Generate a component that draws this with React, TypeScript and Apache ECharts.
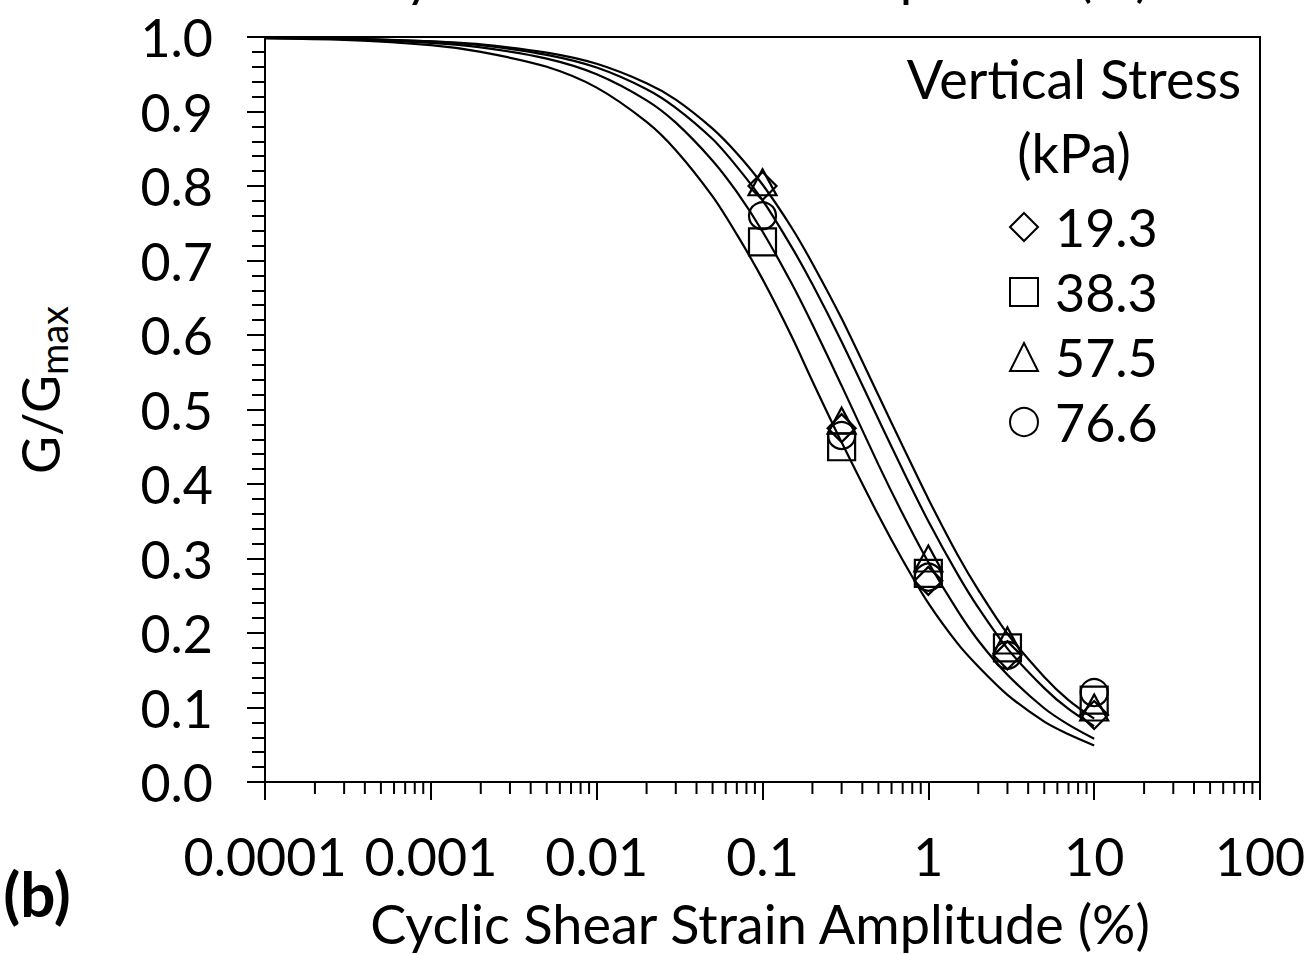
import React, { useEffect, useRef } from "react";
import * as echarts from "echarts";

const FONT = "Lato";

// strain values (%) at which the fitted curves are read
const X_CURVE = [0.0001, 0.0003, 0.001, 0.002, 0.005, 0.01, 0.02, 0.03, 0.05, 0.07, 0.1, 0.15, 0.2, 0.3, 0.5, 0.7, 1, 1.5, 2, 3, 5, 7, 10];
const CURVE_38 = [0.998, 0.996, 0.989, 0.98, 0.96, 0.932, 0.886, 0.848, 0.786, 0.735, 0.675, 0.598, 0.538, 0.456, 0.358, 0.298, 0.24, 0.186, 0.155, 0.117, 0.081, 0.064, 0.049];
const CURVE_76 = [0.999, 0.997, 0.992, 0.986, 0.971, 0.95, 0.915, 0.885, 0.834, 0.792, 0.739, 0.669, 0.614, 0.532, 0.426, 0.36, 0.295, 0.23, 0.19, 0.144, 0.099, 0.077, 0.058];
const CURVE_19 = [0.999, 0.998, 0.994, 0.989, 0.976, 0.959, 0.93, 0.905, 0.863, 0.826, 0.781, 0.718, 0.668, 0.591, 0.487, 0.419, 0.35, 0.279, 0.234, 0.179, 0.126, 0.098, 0.075];
const CURVE_57 = [0.999, 0.998, 0.994, 0.99, 0.979, 0.964, 0.938, 0.916, 0.877, 0.844, 0.802, 0.744, 0.696, 0.622, 0.519, 0.451, 0.38, 0.305, 0.258, 0.199, 0.141, 0.11, 0.085];

// measured points
const X_POINTS = [0.1, 0.3, 1, 3, 10];
const PTS_19 = [0.8, 0.475, 0.27, 0.17, 0.09];
const PTS_38 = [0.725, 0.45, 0.28, 0.18, 0.11];
const PTS_57 = [0.805, 0.485, 0.3, 0.19, 0.1];
const PTS_76 = [0.76, 0.465, 0.275, 0.17, 0.12];

const SERIES_NAMES = ["19.3", "38.3", "57.5", "76.6"];
const X_LABELS = ["0.0001", "0.001", "0.01", "0.1", "1", "10", "100"];
const Y_TICKS = [0, 0.1, 0.2, 0.3, 0.4, 0.5, 0.6, 0.7, 0.8, 0.9, 1.0];
const DECADES = [-4, -3, -2, -1, 0, 1];
const MINOR_MULTS = [2, 3, 4, 5, 6, 7, 8, 9];

const X_TITLE = "Cyclic Shear Strain Amplitude (%)";

export default function App() {
  const ref = useRef<HTMLDivElement>(null);
  useEffect(() => {
    if (!ref.current) return;
    const chart = echarts.init(ref.current, null, { renderer: "svg" });
    const zip = (xs: number[], ys: number[]) => xs.map((x, i) => [x, ys[i]]);
    const minor: number[][] = [];
    DECADES.forEach((d) => MINOR_MULTS.forEach((m) => minor.push([m * Math.pow(10, d), 0])));

    const lineSeries = [CURVE_19, CURVE_38, CURVE_57, CURVE_76].map((c, i) => ({
      type: "line",
      name: "fit" + i,
      data: zip(X_CURVE, c),
      showSymbol: false,
      symbol: "none",
      smooth: 0.3,
      lineStyle: { color: "#000", width: 2.2 },
      z: 2,
      silent: true,
    }));
    const symbols = ["diamond", "rect", "triangle", "circle"];
    const symSizes: any[] = [28, 27, [28, 26], 27];
    const pts = [PTS_19, PTS_38, PTS_57, PTS_76];
    const scatterSeries = pts.map((p, i) => ({
      type: "scatter",
      name: SERIES_NAMES[i],
      data: zip(X_POINTS, p),
      symbol: symbols[i],
      symbolSize: symSizes[i],
      itemStyle: { color: "transparent", borderColor: "#000", borderWidth: 2.2, opacity: 1 },
      z: 3,
    }));

    const option: any = {
      animation: false,
      backgroundColor: "#fff",
      textStyle: { fontFamily: FONT, color: "#000" },
      grid: {
        left: 265,
        right: 53,
        top: 37,
        bottom: 173,
        show: true,
        borderColor: "#000",
        borderWidth: 2,
        backgroundColor: "transparent",
      },
      legend: {
        data: SERIES_NAMES,
        orient: "vertical",
        left: 1004,
        top: 196,
        itemWidth: 28,
        itemHeight: 28,
        itemGap: 13,
        textStyle: { fontFamily: FONT, fontSize: 52, color: "#000", lineHeight: 52, padding: [0, 0, 0, 12] },
        selectedMode: false,
      },
      xAxis: {
        type: "log",
        logBase: 10,
        min: 0.0001,
        max: 100,
        splitNumber: 6,
        axisLine: { show: true, lineStyle: { color: "#000", width: 2 } },
        axisTick: { show: true, length: 18, lineStyle: { color: "#000", width: 2 } },
        splitLine: { show: false },
        axisLabel: {
          fontFamily: FONT,
          fontSize: 52,
          color: "#000",
          margin: 48,
          formatter: (v: number) => X_LABELS[Math.round(Math.log10(v)) + 4],
        },
      },
      yAxis: {
        type: "value",
        min: 0,
        max: 1,
        interval: 0.1,
        axisLine: { show: true, lineStyle: { color: "#000", width: 2 } },
        axisTick: { show: true, length: 18, lineStyle: { color: "#000", width: 2 } },
        minorTick: { show: true, splitNumber: 5, length: 13, lineStyle: { color: "#000", width: 2 } },
        splitLine: { show: false },
        minorSplitLine: { show: false },
        axisLabel: {
          fontFamily: FONT,
          fontSize: 52,
          color: "#000",
          margin: 52,
          formatter: (v: number) => {
            const t = Y_TICKS.find((y) => Math.abs(y - v) < 1e-6);
            return (t !== undefined ? t : v).toFixed(1);
          },
        },
      },
      graphic: [
        {
          type: "text",
          x: 760,
          y: 923,
          style: {
            text: X_TITLE,
            font: `54px ${FONT}`,
            fill: "#000",
            align: "center",
            verticalAlign: "middle",
          },
        },
        {
          type: "text",
          x: 760,
          y: -25,
          style: {
            text: X_TITLE,
            font: `54px ${FONT}`,
            fill: "#000",
            align: "center",
            verticalAlign: "middle",
          },
        },
        {
          type: "text",
          x: 40,
          y: 390,
          rotation: Math.PI / 2,
          style: {
            text: "{a|G/G}{b|max}",
            align: "center",
            verticalAlign: "middle",
            fill: "#000",
            rich: {
              a: { fontFamily: FONT, fontSize: 52, fill: "#000", lineHeight: 58 },
              b: { fontFamily: FONT, fontSize: 38, fill: "#000", padding: [26, 0, 0, 0] },
            },
          },
        },
        {
          type: "text",
          x: 37,
          y: 893,
          style: {
            text: "(b)",
            font: `bold 62px ${FONT}`,
            fill: "#000",
            align: "center",
            verticalAlign: "middle",
          },
        },
        {
          type: "text",
          x: 1074,
          y: 78,
          style: {
            text: "Vertical Stress",
            font: `54px ${FONT}`,
            fill: "#000",
            align: "center",
            verticalAlign: "middle",
          },
        },
        {
          type: "text",
          x: 1074,
          y: 152,
          style: {
            text: "(kPa)",
            font: `54px ${FONT}`,
            fill: "#000",
            align: "center",
            verticalAlign: "middle",
          },
        },
      ],
      series: [
        ...lineSeries,
        ...scatterSeries,
        {
          type: "custom",
          name: "minorTicks",
          data: minor,
          clip: false,
          silent: true,
          encode: { x: 0, y: 1 },
          renderItem: (params: any, api: any) => {
            const p = api.coord([api.value(0), 0]);
            return {
              type: "line",
              shape: { x1: p[0], y1: p[1], x2: p[0], y2: p[1] + 12 },
              style: { stroke: "#000", lineWidth: 2 },
            };
          },
        },
      ],
    };
    chart.setOption(option);
    return () => chart.dispose();
  }, []);
  return (
    <div
      ref={ref}
      style={{ position: "fixed", left: 0, top: 0, width: 1313, height: 955 }}
    />
  );
}
